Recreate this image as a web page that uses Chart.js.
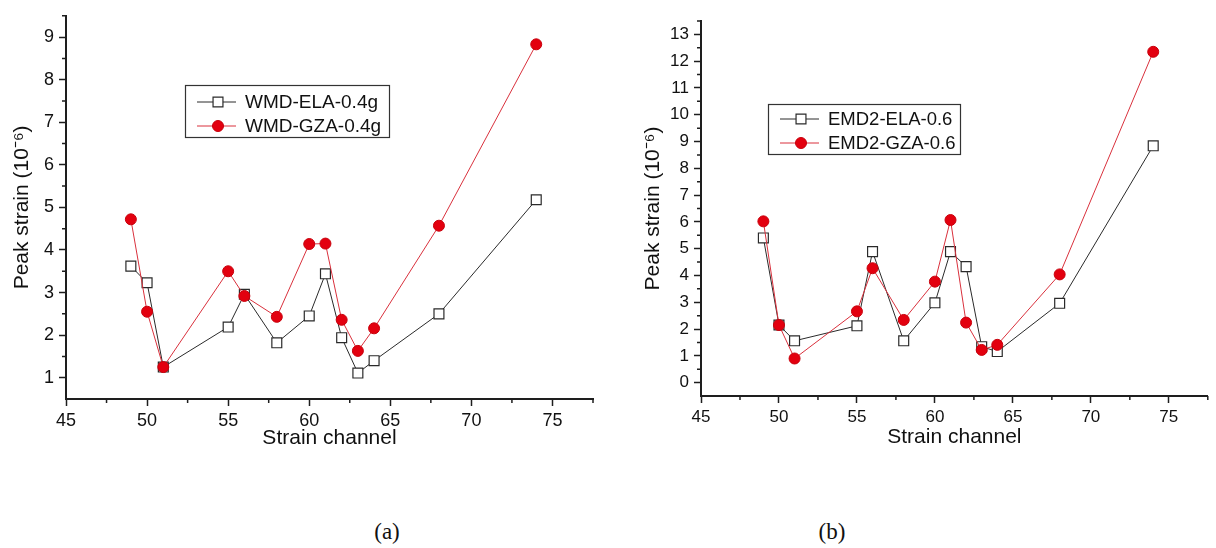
<!DOCTYPE html>
<html>
<head>
<meta charset="utf-8">
<script src="https://cdn.jsdelivr.net/npm/chart.js@4.4.1/dist/chart.umd.min.js"></script>
<style>
    body { margin: 0; background: #fff; }
    #wrap { position: relative; width: 1216px; height: 548px; overflow: hidden; }
    canvas { position: absolute; top: 0; }
    .cap { position: absolute; top: 519px; width: 80px; text-align: center; line-height: 28px;
           font: 23px "Liberation Serif", "Times New Roman", serif; color: #111; }
</style>
</head>
<body>
<div id="wrap">
    <canvas id="chartA" width="610" height="460" style="left:0"></canvas>
    <canvas id="chartB" width="596" height="460" style="left:620px"></canvas>
    <div class="cap" style="left:347px">(a)</div>
    <div class="cap" style="left:792px">(b)</div>
</div>
<script>
// strain channels (x) and peak strain values
const channels = [49, 50, 51, 55, 56, 58, 60, 61, 62, 63, 64, 68, 74];

// (a) WMD, 0.4g
const elaA = [3.62, 3.23, 1.25, 2.19, 2.96, 1.82, 2.45, 3.44, 1.94, 1.11, 1.40, 2.50, 5.18];
const gzaA = [4.72, 2.55, 1.25, 3.50, 2.92, 2.43, 4.14, 4.15, 2.36, 1.63, 2.16, 4.57, 8.83];

// (b) EMD2, 0.6
const elaB = [5.40, 2.15, 1.56, 2.12, 4.89, 1.56, 2.98, 4.89, 4.33, 1.34, 1.16, 2.96, 8.84];
const gzaB = [6.02, 2.15, 0.90, 2.66, 4.27, 2.34, 3.77, 6.07, 2.24, 1.22, 1.41, 4.04, 12.35];

const labelsA = ['WMD-ELA-0.4g', 'WMD-GZA-0.4g'];
const labelsB = ['EMD2-ELA-0.6', 'EMD2-GZA-0.6'];

// ticks
const xTicks = [45, 50, 55, 60, 65, 70, 75];
const xMinor = [47.5, 52.5, 57.5, 62.5, 67.5, 72.5, 77.5];
const yTicksA = [1, 2, 3, 4, 5, 6, 7, 8, 9];
const yMinorA = [1.5, 2.5, 3.5, 4.5, 5.5, 6.5, 7.5, 8.5, 9.5];
const yTicksB = [0, 1, 2, 3, 4, 5, 6, 7, 8, 9, 10, 11, 12, 13];
const yMinorB = [0.5, 1.5, 2.5, 3.5, 4.5, 5.5, 6.5, 7.5, 8.5, 9.5, 10.5, 11.5, 12.5, 13.5];

const AXIS = '#1e1e1e';
const FONT = '"Liberation Sans", Arial, sans-serif';
const RED = '#e3000f';

const minorTicks = {
    id: 'minorTicks',
    afterDraw(chart, args, opts) {
        const ctx = chart.ctx;
        const xs = chart.scales.x, ys = chart.scales.y;
        ctx.save();
        ctx.strokeStyle = AXIS;
        ctx.lineWidth = 1.5;
        ctx.beginPath();
        opts.x.forEach(v => {
            const px = xs.getPixelForValue(v);
            ctx.moveTo(px, xs.top);
            ctx.lineTo(px, xs.top + 4);
        });
        opts.y.forEach(v => {
            const py = ys.getPixelForValue(v);
            ctx.moveTo(ys.right, py);
            ctx.lineTo(ys.right - 4, py);
        });
        ctx.stroke();
        ctx.restore();
    }
};

// boxed legend inside the plot, like the original figure
const boxLegend = {
    id: 'boxLegend',
    afterDraw(chart, args, opts) {
        const ctx = chart.ctx;
        const b = opts.box;
        ctx.save();
        ctx.fillStyle = '#fff';
        ctx.fillRect(b.x, b.y, b.w, b.h);
        ctx.strokeStyle = '#333';
        ctx.lineWidth = 1.2;
        ctx.strokeRect(b.x + 0.5, b.y + 0.5, b.w, b.h);
        chart.data.datasets.forEach((ds, i) => {
            const y = opts.rows[i];
            ctx.strokeStyle = ds.borderColor;
            ctx.lineWidth = 1;
            ctx.beginPath();
            ctx.moveTo(b.x + 12, y);
            ctx.lineTo(b.x + 51, y);
            ctx.stroke();
            const mx = b.x + 33;
            ctx.beginPath();
            if (ds.pointStyle === 'rect') {
                const s = ds.pointRadius * Math.SQRT1_2;
                ctx.rect(mx - s, y - s, 2 * s, 2 * s);
            } else {
                ctx.arc(mx, y, ds.pointRadius, 0, Math.PI * 2);
            }
            ctx.fillStyle = ds.pointBackgroundColor;
            ctx.fill();
            ctx.strokeStyle = ds.pointBorderColor;
            ctx.lineWidth = ds.pointBorderWidth;
            ctx.stroke();
            ctx.fillStyle = '#111';
            ctx.font = opts.fontSize + 'px ' + FONT;
            ctx.textBaseline = 'middle';
            ctx.fillText(ds.label, b.x + 60, y + 1);
        });
        ctx.restore();
    }
};

function series(values) {
    return channels.map((c, i) => ({ x: c, y: values[i] }));
}

function makeChart(id, cfg) {
    const ela = {
        label: cfg.labels[0],
        data: series(cfg.ela),
        borderColor: '#2a2a2a',
        borderWidth: 1,
        pointStyle: 'rect',
        pointRadius: 7,
        pointBackgroundColor: '#fff',
        pointBorderColor: '#2a2a2a',
        pointBorderWidth: 1.2,
        order: 1
    };
    const gza = {
        label: cfg.labels[1],
        data: series(cfg.gza),
        borderColor: '#d9303c',
        borderWidth: 1,
        pointStyle: 'circle',
        pointRadius: 5.5,
        pointBackgroundColor: RED,
        pointBorderColor: '#c8000c',
        pointBorderWidth: 1,
        order: 0
    };

    return new Chart(document.getElementById(id), {
        type: 'line',
        data: { datasets: [ela, gza] },
        plugins: [minorTicks, boxLegend],
        options: {
            responsive: false,
            animation: false,
            devicePixelRatio: 1,
            layout: { padding: cfg.padding },
            plugins: {
                legend: { display: false },
                tooltip: { enabled: false },
                minorTicks: { x: xMinor, y: cfg.yMinor },
                boxLegend: { box: cfg.legendBox, rows: cfg.legendRows, fontSize: cfg.legendFont }
            },
            scales: {
                x: {
                    type: 'linear',
                    min: 45,
                    max: 77.5,
                    afterBuildTicks: s => { s.ticks = xTicks.map(v => ({ value: v })); },
                    afterFit: s => { s.height = cfg.xHeight; },
                    border: { color: AXIS, width: 2 },
                    grid: { drawOnChartArea: false, tickLength: 7, tickWidth: 1.5, tickColor: AXIS },
                    ticks: { color: '#111', padding: 4, maxRotation: 0, font: { family: FONT, size: cfg.tickFont } },
                    title: {
                        display: true,
                        text: 'Strain channel',
                        color: '#111',
                        font: { family: FONT, size: 21 },
                        padding: { top: 0, bottom: cfg.xTitlePad }
                    }
                },
                y: {
                    type: 'linear',
                    min: cfg.yMin,
                    max: cfg.yMax,
                    afterBuildTicks: s => { s.ticks = cfg.yTicks.map(v => ({ value: v })); },
                    afterFit: s => { s.width = cfg.yWidth; },
                    border: { color: AXIS, width: 2 },
                    grid: { drawOnChartArea: false, tickLength: 7, tickWidth: 1.5, tickColor: AXIS },
                    ticks: { color: '#111', padding: 5, font: { family: FONT, size: cfg.tickFont } },
                    title: {
                        display: true,
                        text: 'Peak strain (10\u207B\u2076)',
                        color: '#111',
                        font: { family: FONT, size: 21 },
                        padding: { top: cfg.yTitlePad, bottom: 0 }
                    }
                }
            }
        }
    });
}

makeChart('chartA', {
    labels: labelsA, ela: elaA, gza: gzaA,
    yMin: 0.5, yMax: 9.5, yTicks: yTicksA, yMinor: yMinorA,
    padding: { top: 12, right: 17, left: 0, bottom: 0 },
    yWidth: 66, xHeight: 61, xTitlePad: 9, yTitlePad: 10,
    tickFont: 18, legendFont: 19,
    legendBox: { x: 185, y: 85, w: 204, h: 52 },
    legendRows: [102, 126]
});

makeChart('chartB', {
    labels: labelsB, ela: elaB, gza: gzaB,
    yMin: -0.5, yMax: 13.5, yTicks: yTicksB, yMinor: yMinorB,
    padding: { top: 21, right: 1, left: 0, bottom: 0 },
    yWidth: 81, xHeight: 64, xTitlePad: 10, yTitlePad: 21,
    tickFont: 17, legendFont: 18.5,
    legendBox: { x: 148, y: 104, w: 192, h: 50 },
    legendRows: [119, 143]
});
</script>
</body>
</html>
